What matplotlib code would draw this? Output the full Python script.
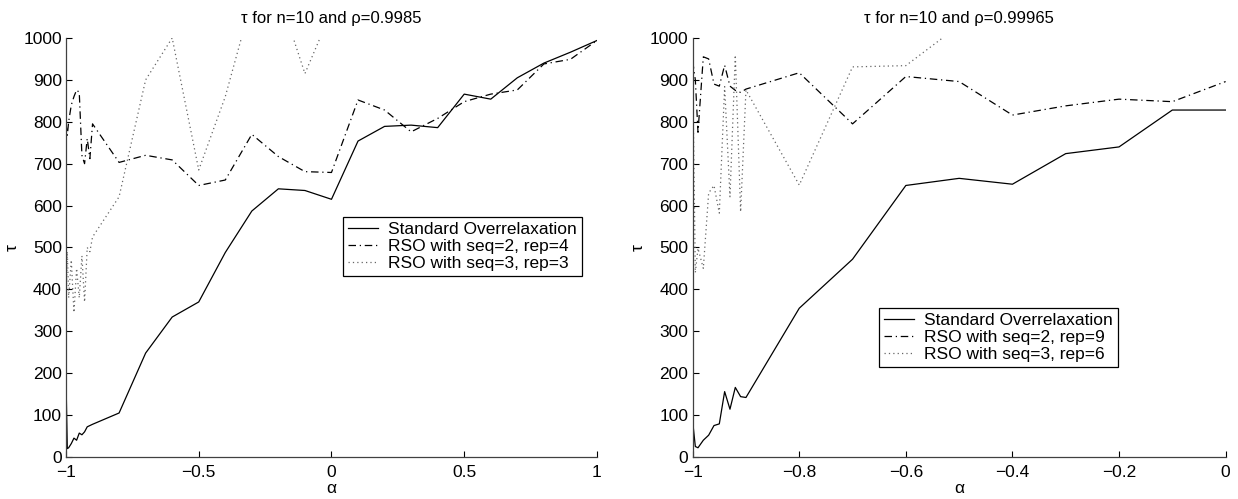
import matplotlib
matplotlib.use("Agg")
import matplotlib.pyplot as plt
from matplotlib.ticker import FuncFormatter

plt.rcParams['font.family'] = ['Liberation Sans', 'DejaVu Sans']
plt.rcParams['font.size'] = 12.5

# alpha grid (dense near -1)
dense = [-1, -0.995, -0.99, -0.98, -0.97, -0.96, -0.95, -0.94, -0.93, -0.92, -0.91, -0.9]
alpha_left = dense + [-0.8, -0.7, -0.6, -0.5, -0.4, -0.3, -0.2, -0.1, 0,
                      0.1, 0.2, 0.3, 0.4, 0.5, 0.6, 0.7, 0.8, 0.9, 1]
alpha_right = dense + [-0.8, -0.7, -0.6, -0.5, -0.4, -0.3, -0.2, -0.1, 0]

# rho = 0.9985
so_left = [185, 20, 22, 32, 45, 40, 57, 53, 60, 72, 75, 78,
           105, 248, 334, 370, 488, 587, 640, 636, 615,
           754, 789, 792, 786, 866, 854, 905, 940, 966, 994]
rso2_left = [797, 768, 800, 840, 860, 876, 870, 720, 700, 760, 712, 795,
             703, 720, 709, 648, 661, 770, 717, 681, 679,
             852, 828, 776, 808, 848, 866, 876, 938, 949, 994]
rso3_left = [350, 490, 380, 470, 345, 450, 380, 480, 370, 500, 490, 525,
             621, 900, 1000, 685, 860, 1090, 1108, 915, 1064,
             1150, 1200, 1180, 1250, 1220, 1300, 1280, 1350, 1320, 1400]

# rho = 0.99965
so_right = [85, 25, 22, 40, 52, 75, 79, 156, 114, 166, 144, 142,
            355, 472, 648, 665, 651, 724, 740, 828, 828]
rso2_right = [945, 900, 775, 955, 950, 890, 885, 935, 885, 875, 870, 878,
              917, 795, 908, 896, 816, 838, 854, 848, 896]
rso3_right = [930, 440, 498, 450, 630, 648, 582, 884, 621, 959, 585, 876,
              649, 931, 934, 1030, 1100, 1150, 1200, 1180, 1250]

titles = [u"\u03c4 for n=10 and \u03c1=0.9985", u"\u03c4 for n=10 and \u03c1=0.99965"]
labels_left = ["Standard Overrelaxation", "RSO with seq=2, rep=4", "RSO with seq=3, rep=3"]
labels_right = ["Standard Overrelaxation", "RSO with seq=2, rep=9", "RSO with seq=3, rep=6"]
xticks_left = [-1, -0.5, 0, 0.5, 1]
xticks_right = [-1, -0.8, -0.6, -0.4, -0.2, 0]
yticks = list(range(0, 1001, 100))


def fmt(v, pos):
    s = "%g" % v
    return s.replace("-", u"\u2212")


def draw(ax, x, so, rso2, rso3, labels, xlim, xticks, title, anchor, ylab_x):
    ax.plot(x, so, color="black", lw=0.9, ls="-", label=labels[0])
    ax.plot(x, rso2, color="black", lw=0.9, ls=(0, (6, 3, 1, 3)), label=labels[1])
    ax.plot(x, rso3, color="0.4", lw=0.9, ls=(0, (1, 2.5)), label=labels[2])
    ax.set_xlim(xlim)
    ax.set_ylim(0, 1000)
    ax.set_xticks(xticks)
    ax.set_yticks(yticks)
    ax.xaxis.set_major_formatter(FuncFormatter(fmt))
    ax.tick_params(direction="in", length=4, width=0.8)
    ax.tick_params(axis="x", pad=6)
    ax.tick_params(axis="y", pad=3)
    ax.spines["top"].set_visible(False)
    ax.spines["right"].set_visible(False)
    for s in ("left", "bottom"):
        ax.spines[s].set_linewidth(0.9)
        ax.spines[s].set_color("0.25")
    ax.set_title(title, fontsize=12, pad=11)
    ax.set_xlabel(u"\u03b1")
    ax.xaxis.set_label_coords(0.5, -0.058)
    ax.set_ylabel(u"\u03c4")
    ax.yaxis.set_label_coords(ylab_x, 0.5)
    leg = ax.legend(loc="upper right", bbox_to_anchor=anchor, borderaxespad=0,
                    fancybox=False, framealpha=1, edgecolor="black",
                    handlelength=1.7, handletextpad=0.6, borderpad=0.3,
                    labelspacing=0.1)
    leg.get_frame().set_linewidth(0.9)


fig = plt.figure(figsize=(12.38, 4.99), dpi=100)
ax1 = fig.add_axes([0.0533, 0.0842, 0.4289, 0.8397])
ax2 = fig.add_axes([0.5595, 0.0842, 0.4305, 0.8397])

draw(ax1, alpha_left, so_left, rso2_left, rso3_left, labels_left,
     (-1, 1), xticks_left, titles[0], (0.972, 0.5735), -0.088)
draw(ax2, alpha_right, so_right, rso2_right, rso3_right, labels_right,
     (-1, 0), xticks_right, titles[1], (0.7985, 0.3563), -0.088)

fig.savefig("out.png", dpi=100)
